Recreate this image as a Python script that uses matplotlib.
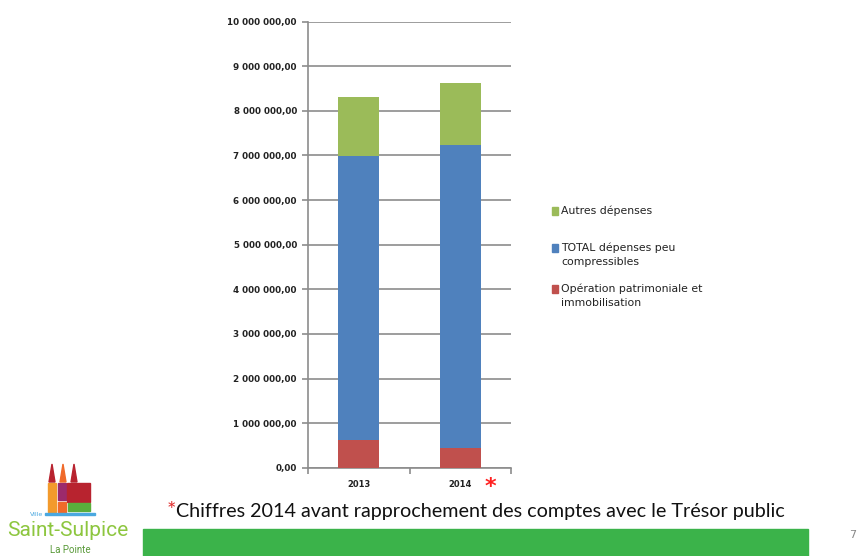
import matplotlib.pyplot as plt
from matplotlib.patches import Rectangle, Polygon

# stacked totals per year (euros)
years = ["2013", "2014"]
operation_patrimoniale = [630000, 450000]
depenses_peu_compressibles = [6350000, 6790000]
autres_depenses = [1340000, 1390000]

series_labels = [
    "Opération patrimoniale et\nimmobilisation",
    "TOTAL dépenses peu\ncompressibles",
    "Autres dépenses",
]
series_colors = ["#c0504d", "#4f81bd", "#9bbb59"]

W, H = 858, 556
fig = plt.figure(figsize=(W / 100, H / 100), dpi=100)
fig.patch.set_facecolor("white")


def fx(px):
    return px / W


def fy(py):
    return 1 - py / H


ax = fig.add_axes([fx(308), fy(467.7), fx(511) - fx(308), fy(21.7) - fy(467.7)])

x = range(len(years))
bottom = [0] * len(years)
for vals, col in zip([operation_patrimoniale, depenses_peu_compressibles, autres_depenses], series_colors):
    ax.bar(x, vals, width=0.4, bottom=bottom, color=col, zorder=3)
    bottom = [b + v for b, v in zip(bottom, vals)]

ax.set_xlim(-0.5, 1.5)
ax.set_ylim(0, 10000000)
ax.set_yticks(range(0, 10000001, 1000000))


def fr_money(v):
    s = f"{int(v):,}".replace(",", " ")
    return s + ",00"


ax.set_yticklabels([fr_money(v) for v in ax.get_yticks()], fontsize=6.3, fontweight="bold", color="#222222")
ax.yaxis.grid(True, color="#8c8c8c", linewidth=1.2, zorder=0)
ax.set_xticks([0, 1])
ax.set_xticklabels(years, fontsize=6, fontweight="bold", color="#222222")
ax.set_xticks([-0.5, 0.5, 1.5], minor=True)
ax.tick_params(axis="x", which="major", length=0, pad=9)
ax.tick_params(axis="x", which="minor", length=4, color="#8c8c8c", width=1.2)
ax.tick_params(axis="y", length=4, color="#8c8c8c", width=1.2, pad=4)
for side in ["top", "right"]:
    ax.spines[side].set_visible(False)
for side in ["left", "bottom"]:
    ax.spines[side].set_color("#8c8c8c")
    ax.spines[side].set_linewidth(1.2)

# legend, top entry first
legend_rows = [(211, 2), (248, 1), (289, 0)]
for py, i in legend_rows:
    fig.patches.append(Rectangle((fx(552), fy(py + 4)), 6 / W, 8 / H,
                                 transform=fig.transFigure, color=series_colors[i]))
    fig.text(fx(561), fy(py - 5), series_labels[i], fontsize=7.8, color="#222222",
             va="top", ha="left", linespacing=1.45)

# note marker next to 2014
fig.text(fx(490), fy(487), "*", color="#ff2020", fontsize=16, ha="center", va="center", fontweight="bold")

# footnote
fig.text(fx(167), fy(511), "*", color="#e03030", fontsize=16, ha="left", va="center", family="Lato")
fig.text(fx(176), fy(511), "Chiffres 2014 avant rapprochement des comptes avec le Trésor public",
         fontsize=14.2, ha="left", va="center", family="Lato", color="#111111")

# green footer band and page number
fig.patches.append(Rectangle((fx(143), 0), fx(808) - fx(143), 27 / H, transform=fig.transFigure,
                             color="#3bb34a"))
fig.text(fx(853), fy(535), "7", fontsize=8, color="#888888", ha="center", va="center")

# town logo
logo = [
    ((48, 483), 8, 29, "#f39a2c"),
    ((58, 483), 8, 17, "#9c2a6c"),
    ((67, 483), 23, 19, "#b8232f"),
    ((58, 502), 8, 10, "#f06a2a"),
    ((68, 503), 22, 8, "#5aae3c"),
]
for (lx, ly), w, h, c in logo:
    fig.patches.append(Rectangle((fx(lx), fy(ly + h)), w / W, h / H, transform=fig.transFigure, color=c))
for sx, c in [(52, "#b8232f"), (63, "#f06a2a"), (74, "#b8232f")]:
    fig.patches.append(Polygon([(fx(sx - 3), fy(482)), (fx(sx + 3), fy(482)), (fx(sx), fy(464))],
                               closed=True, transform=fig.transFigure, color=c))
fig.patches.append(Rectangle((fx(45), fy(515)), 50 / W, 2 / H, transform=fig.transFigure, color="#4aa8e0"))
fig.text(fx(30), fy(515), "Ville", fontsize=4.5, color="#4aa8e0", ha="left", va="center")
fig.text(fx(68), fy(530), "Saint-Sulpice", fontsize=15, color="#8dc63f", ha="center", va="center",
         family="Roboto", fontstretch="condensed")
fig.text(fx(70), fy(550), "La Pointe", fontsize=7, color="#5a9a3a", ha="center", va="center", family="Roboto")

fig.savefig("out.png", dpi=100, facecolor="white")
